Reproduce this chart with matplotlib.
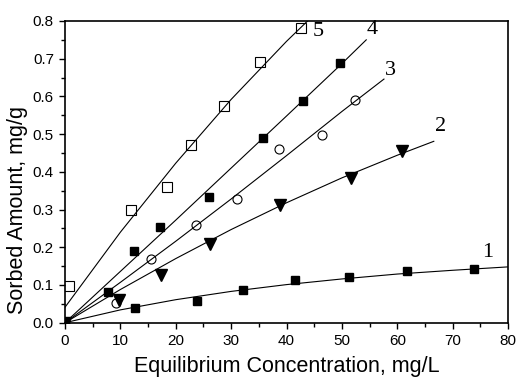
import matplotlib
matplotlib.use("Agg")
import matplotlib.pyplot as plt
from matplotlib.ticker import MultipleLocator, FormatStrFormatter

# measured points (equilibrium concentration, mg/L -> sorbed amount, mg/g)
x1 = [0, 12.6, 23.8, 32.2, 41.6, 51.2, 61.7, 73.8]
y1 = [0, 0.040, 0.058, 0.087, 0.112, 0.122, 0.136, 0.143]
x2 = [0, 9.8, 17.4, 26.2, 38.8, 51.7, 60.8]
y2 = [0, 0.060, 0.127, 0.209, 0.313, 0.384, 0.455]
x3 = [9.3, 15.5, 23.6, 31.0, 38.6, 46.5, 52.3]
y3 = [0.053, 0.169, 0.258, 0.328, 0.460, 0.497, 0.590]
x4 = [0, 7.8, 12.5, 17.1, 26.0, 35.7, 43.0, 49.6]
y4 = [0, 0.082, 0.190, 0.253, 0.334, 0.489, 0.587, 0.688]
x5 = [0.7, 11.9, 18.5, 22.7, 28.7, 35.2, 42.7]
y5 = [0.096, 0.300, 0.359, 0.470, 0.574, 0.691, 0.781]

# fitted curves
fx1 = [0, 10, 20, 30, 40, 50, 60, 70, 80]
fy1 = [0, 0.034, 0.061, 0.083, 0.101, 0.116, 0.129, 0.139, 0.148]
fx2 = [0, 10, 20, 30, 40, 50, 60, 66.6]
fy2 = [0, 0.088, 0.170, 0.247, 0.318, 0.384, 0.444, 0.481]
fx3 = [0, 10, 20, 30, 40, 50, 57.6]
fy3 = [0, 0.107, 0.216, 0.328, 0.443, 0.560, 0.646]
fx4 = [0, 10, 20, 30, 40, 50, 54.4]
fy4 = [0, 0.136, 0.272, 0.410, 0.548, 0.687, 0.750]
fx5 = [0, 10, 20, 30, 40, 43.8]
fy5 = [0.041, 0.240, 0.423, 0.592, 0.746, 0.800]

# curve labels
lab_text = ["1", "2", "3", "4", "5"]
lab_x = [76.4, 67.9, 58.7, 55.4, 45.7]
lab_y = [0.186, 0.521, 0.669, 0.777, 0.772]

fig = plt.figure(figsize=(5.25, 3.86), dpi=100)
ax = fig.add_axes([65 / 525, 1 - 322.7 / 386, (508 - 65) / 525, (322.7 - 21) / 386])

lw = 0.8
for fx, fy in [(fx1, fy1), (fx2, fy2), (fx3, fy3), (fx4, fy4), (fx5, fy5)]:
    ax.plot(fx, fy, color="black", linewidth=lw)

ax.plot(x1, y1, "s", color="black", markersize=6.2, linestyle="none")
ax.plot(x2, y2, "v", color="black", markersize=8, linestyle="none")
ax.plot(x3, y3, "o", markerfacecolor="none", markeredgecolor="black",
        markeredgewidth=0.8, markersize=6.5, linestyle="none")
ax.plot(x4, y4, "s", color="black", markersize=6.2, linestyle="none")
ax.plot(x5, y5, "s", markerfacecolor="none", markeredgecolor="black",
        markeredgewidth=0.8, markersize=6.5, linestyle="none")

for t, lx, ly in zip(lab_text, lab_x, lab_y):
    ax.text(lx, ly, t, fontsize=16, family="Liberation Serif",
            ha="center", va="center")

ax.set_xlim(0, 80)
ax.set_ylim(0, 0.8)
ax.xaxis.set_major_locator(MultipleLocator(10))
ax.xaxis.set_minor_locator(MultipleLocator(5))
ax.yaxis.set_major_locator(MultipleLocator(0.1))
ax.yaxis.set_minor_locator(MultipleLocator(0.05))
ax.yaxis.set_major_formatter(FormatStrFormatter("%.1f"))

ax.tick_params(which="major", direction="out", length=4.5, width=1,
               labelsize=11, pad=3.5)
ax.tick_params(which="minor", direction="out", length=3, width=1)
for lbl in ax.get_xticklabels() + ax.get_yticklabels():
    lbl.set_family(["Liberation Sans Narrow", "Liberation Sans"])
for s in ax.spines.values():
    s.set_linewidth(1.2)

ax.set_xlabel("Equilibrium Concentration, mg/L", fontsize=15.5,
              family="Liberation Sans", labelpad=6)
ax.set_ylabel("Sorbed Amount, mg/g", fontsize=15.5,
              family="Liberation Sans")
ax.yaxis.set_label_coords(-0.108, 0.3735)
ax.yaxis.label.set_va("center")

fig.savefig("out.png", dpi=100)
